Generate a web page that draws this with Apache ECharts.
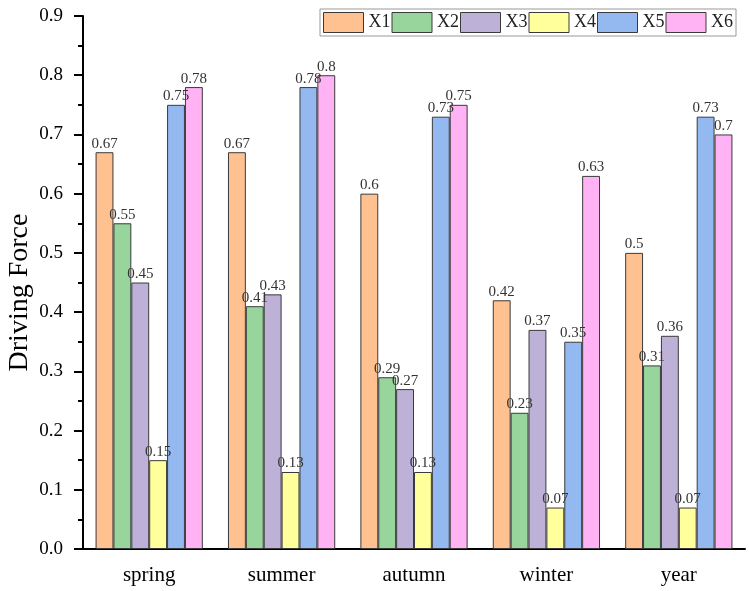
<!DOCTYPE html>
<html>
<head>
<meta charset="utf-8">
<script src="https://cdn.jsdelivr.net/npm/echarts@6/dist/echarts.min.js"></script>
<style>
  html, body { margin: 0; padding: 0; background: #fff; }
  #main { width: 749px; height: 591px; }
</style>
</head>
<body>
<div id="main"></div>
<script>
// seasons on the x axis
var seasons = ['spring', 'summer', 'autumn', 'winter', 'year'];
var factorNames = ['X1', 'X2', 'X3', 'X4', 'X5', 'X6'];
// driving force per factor, one value per season
var x1 = [0.67, 0.67, 0.6, 0.42, 0.5];
var x2 = [0.55, 0.41, 0.29, 0.23, 0.31];
var x3 = [0.45, 0.43, 0.27, 0.37, 0.36];
var x4 = [0.15, 0.13, 0.13, 0.07, 0.07];
var x5 = [0.75, 0.78, 0.73, 0.35, 0.73];
var x6 = [0.78, 0.8, 0.75, 0.63, 0.7];
var factorValues = [x1, x2, x3, x4, x5, x6];
var colors = ['#FFC18F', '#97D59C', '#BEB1D8', '#FFFF9B', '#94B8F0', '#FFB2F4'];

var font = 'Liberation Serif, Times New Roman, serif';
var chartDom = document.getElementById('main');
var myChart = echarts.init(chartDom);

var series = factorNames.map(function (name, i) {
  return {
    name: name,
    type: 'bar',
    data: factorValues[i],
    barGap: '0%',
    barCategoryGap: '19%',
    itemStyle: { color: colors[i], borderColor: '#3a3a3a', borderWidth: 1 },
    label: {
      show: true,
      position: 'top',
      distance: 1,
      color: '#333',
      fontFamily: font,
      fontSize: 15
    }
  };
});

var option = {
  animation: false,
  textStyle: { fontFamily: font },
  legend: {
    top: 9,
    right: 13,
    icon: 'rect',
    itemWidth: 40,
    itemHeight: 20,
    itemGap: 1,
    padding: [3, 3, 3, 3],
    borderColor: '#999',
    borderWidth: 1,
    textStyle: { fontFamily: font, fontSize: 18, color: '#222' },
    data: factorNames.map(function (n) {
      return { name: n, itemStyle: { borderColor: '#3a3a3a', borderWidth: 1 } };
    })
  },
  grid: { left: 83, right: 4, top: 16, bottom: 42, containLabel: false, outerBoundsMode: 'none' },
  xAxis: [
    {
      type: 'category',
      data: seasons,
      axisLine: { lineStyle: { color: '#000', width: 2 } },
      axisTick: { alignWithLabel: true, length: 9, lineStyle: { color: '#000', width: 2 } },
      axisLabel: { color: '#000', fontFamily: font, fontSize: 21, margin: 16 }
    },
    {
      type: 'category',
      data: seasons,
      position: 'bottom',
      axisLine: { show: false },
      axisTick: { length: 5, lineStyle: { color: '#000', width: 2 } },
      axisLabel: { show: false }
    }
  ],
  yAxis: {
    type: 'value',
    min: 0,
    max: 0.9,
    interval: 0.1,
    name: 'Driving Force',
    nameLocation: 'middle',
    nameGap: 49,
    nameMoveOverlap: false,
    nameTextStyle: { fontFamily: font, fontSize: 28, color: '#000', padding: [0, 20, 0, 0] },
    axisLine: { show: true, lineStyle: { color: '#000', width: 2 } },
    axisTick: { show: true, length: 9, lineStyle: { color: '#000', width: 2 } },
    minorTick: { show: true, splitNumber: 2, length: 5, lineStyle: { color: '#000', width: 2 } },
    splitLine: { show: false },
    axisLabel: {
      color: '#000',
      fontFamily: font,
      fontSize: 19,
      margin: 20,
      formatter: function (v) { return v.toFixed(1); }
    }
  },
  series: series
};

myChart.setOption(option, true);
</script>
</body>
</html>
